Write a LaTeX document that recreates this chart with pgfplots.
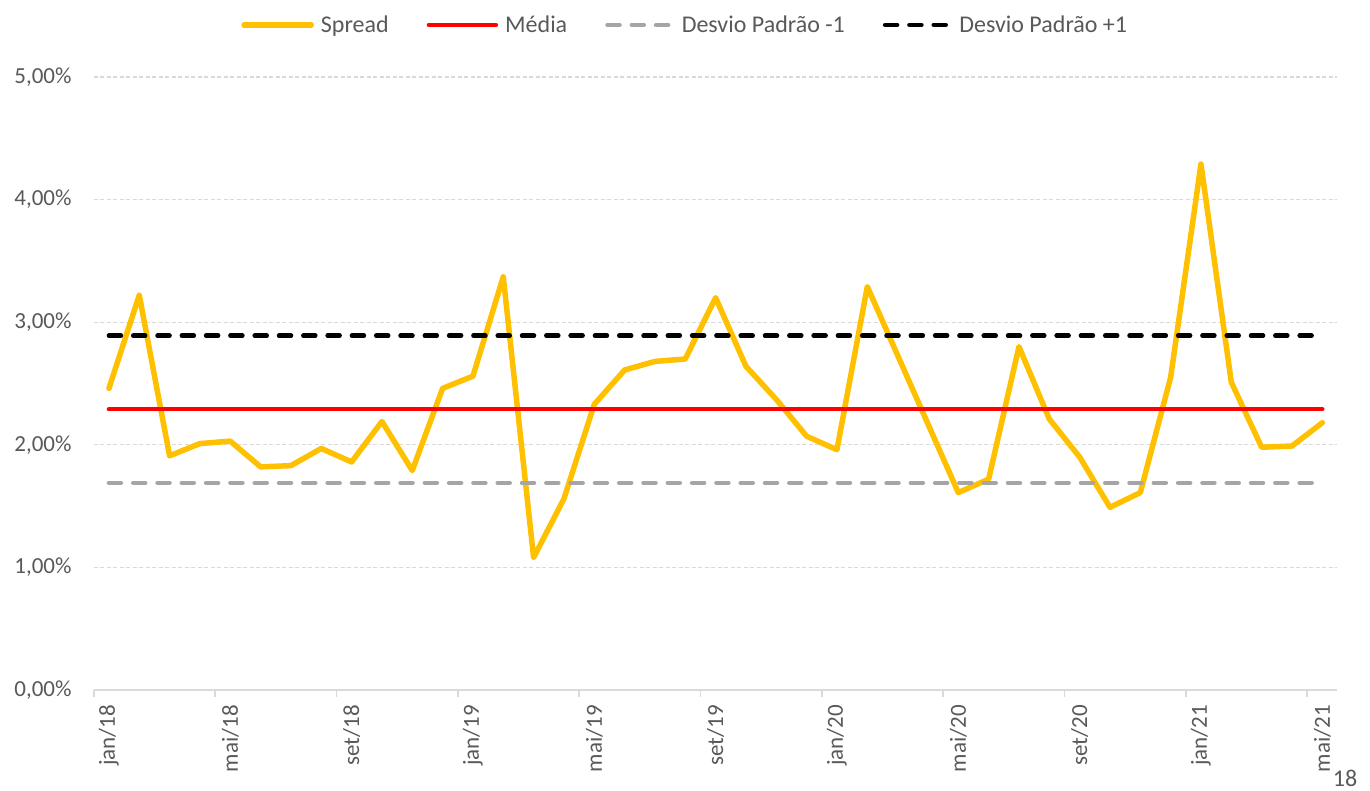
\documentclass[border=0pt]{standalone}
\usepackage{pgfplots}
\pgfplotsset{compat=1.18}
\usepackage{pgfplotstable}
\usepackage{fontspec}
\setmainfont{Carlito}
\definecolor{txtgray}{HTML}{595959}
\definecolor{gridgray}{HTML}{D9D9D9}
\definecolor{spreadc}{HTML}{FFC000}
\definecolor{sdlow}{HTML}{A5A5A5}
\pgfplotsset{
  solidleg/.style={legend image code/.code={\draw[##1] (0pt,0pt) -- (67pt,0pt);\path (72pt,0pt);}},
  dashleg/.style={legend image code/.code={\draw[##1] (2pt,0pt) -- (65pt,0pt);\path (72pt,0pt);}},
}
\pgfplotstableread{
x y
0 2.46
1 3.22
2 1.91
3 2.01
4 2.03
5 1.82
6 1.83
7 1.97
8 1.86
9 2.19
10 1.79
11 2.46
12 2.56
13 3.37
14 1.08
15 1.56
16 2.33
17 2.61
18 2.68
19 2.70
20 3.20
21 2.64
22 2.37
23 2.07
24 1.96
25 3.29
26 2.73
27 2.17
28 1.61
29 1.72
30 2.80
31 2.21
32 1.90
33 1.49
34 1.61
35 2.55
36 4.29
37 2.51
38 1.98
39 1.99
40 2.18
}\spread
\begin{document}
\begin{tikzpicture}
\path[use as bounding box] (0,0) rectangle (1370pt,791pt);
\begin{axis}[
  at={(93.75pt,101pt)}, anchor=south west,
  scale only axis, width=1243.75pt, height=613pt,
  xmin=-0.5, xmax=40.5, ymin=0, ymax=5,
  axis x line*=bottom, axis y line*=left,
  y axis line style={draw=none},
  x axis line style={draw=gridgray, line width=1.5pt},
  xtick={0,4,...,40},
  xticklabels={jan/18,mai/18,set/18,jan/19,mai/19,set/19,jan/20,mai/20,set/20,jan/21,mai/21},
  extra x ticks={-0.5,3.5,...,39.5},
  extra x tick labels={},
  extra x tick style={major tick length=7pt, tick style={draw=gridgray, line width=1.5pt}, tick align=outside, grid=none},
  major tick length=0pt,
  ytick={0,1,2,3,4,5},
  yticklabels={{0,00\%},{1,00\%},{2,00\%},{3,00\%},{4,00\%},{5,00\%}},
  ymajorgrids,
  grid style={draw=gridgray, line width=1.2pt, dash pattern=on 4pt off 2.5pt},
  tick label style={font=\fontsize{23}{27}\selectfont, text=txtgray},
  yticklabel style={anchor=east, inner sep=0pt, xshift=-22pt},
  xticklabel style={rotate=90, anchor=east, inner xsep=15pt, inner ysep=0pt},
  legend columns=4,
  legend cell align=left,
  legend style={draw=none, fill=none, at={(axis description cs:0.4756,1.085)}, anchor=center,
    font=\fontsize{24}{28}\selectfont, text=txtgray,
    /tikz/every even column/.append style={column sep=36pt},
    nodes={inner sep=2pt}},
  clip=false,
]
\addplot[spreadc, line width=5.5pt, line join=round, line cap=round, solidleg]
  table[x=x,y=y] {\spread};
\addlegendentry{Spread}
\addplot[red, line width=4.5pt, line cap=round, solidleg]
  coordinates {(0,2.29) (40,2.29)};
\addlegendentry{Média}
\addplot[sdlow, line width=4.5pt, line cap=round, dash pattern=on 12pt off 12.3pt, dashleg]
  coordinates {(0,1.69) (40,1.69)};
\addlegendentry{Desvio Padrão -1}
\addplot[black, line width=4.5pt, line cap=round, dash pattern=on 12pt off 12.3pt, dashleg]
  coordinates {(0,2.89) (40,2.89)};
\addlegendentry{Desvio Padrão +1}
\end{axis}
\node[anchor=base, text=txtgray, font=\fontsize{24}{28}\selectfont, inner sep=0pt] at (1345pt,4pt) {18};
\end{tikzpicture}
\end{document}
